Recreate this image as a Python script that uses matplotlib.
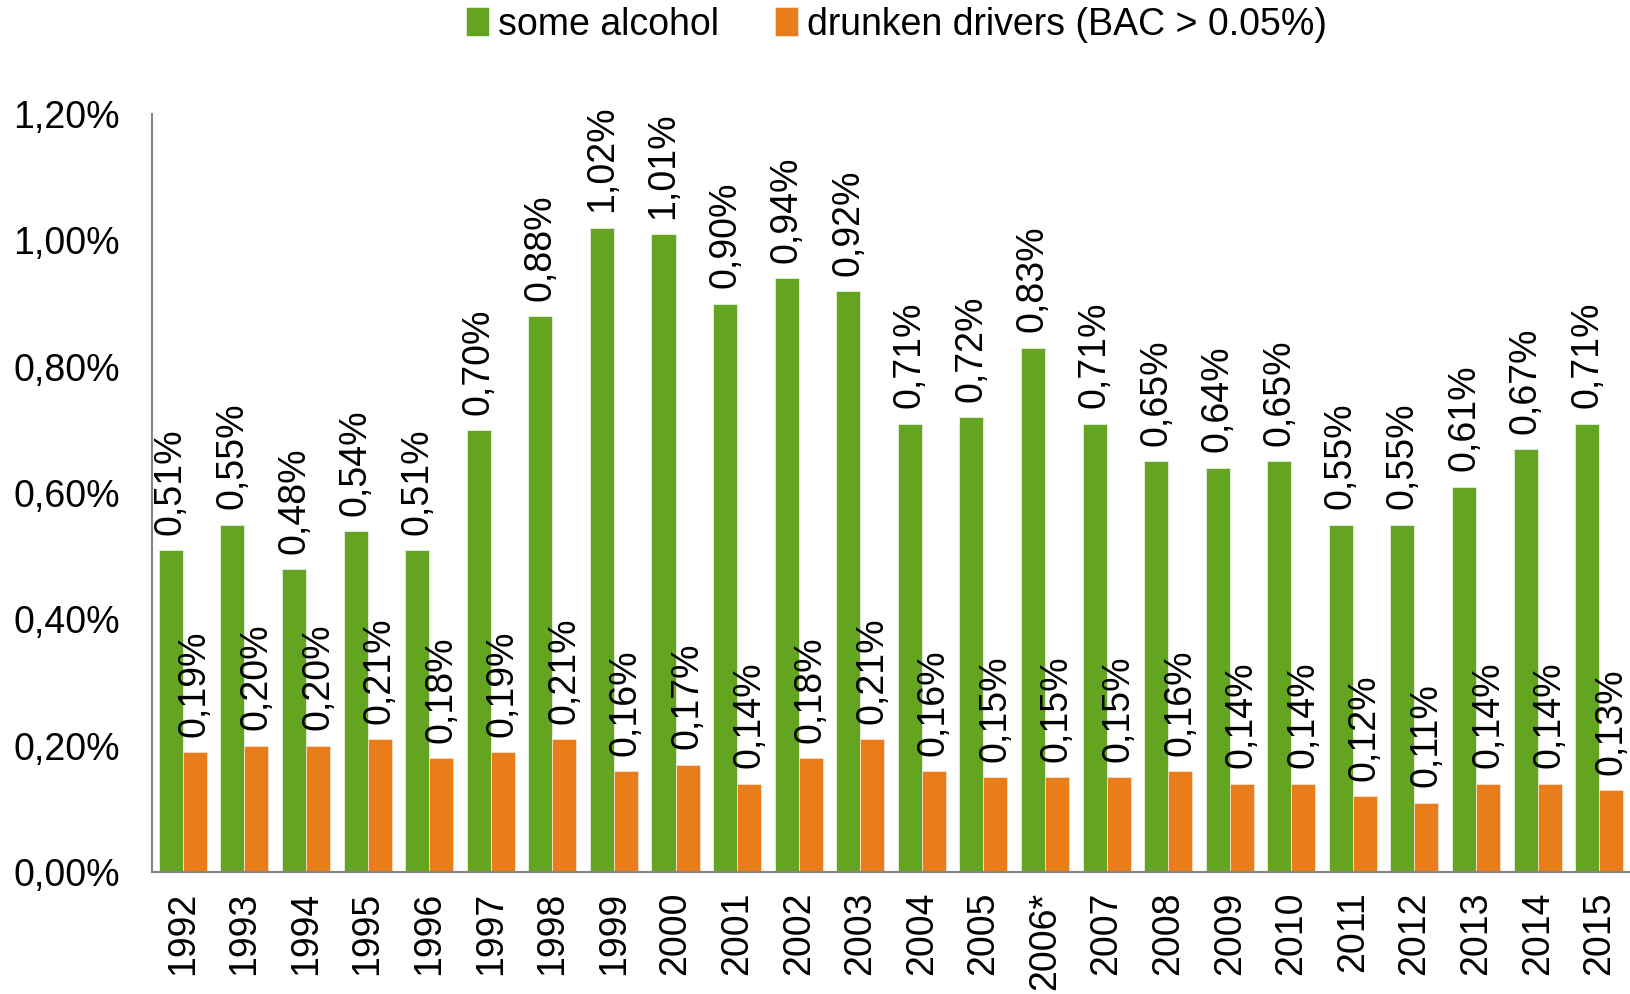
import matplotlib
matplotlib.use('Agg')
import matplotlib.pyplot as plt
import numpy as np

plt.rcParams['font.family'] = ['Liberation Sans', 'DejaVu Sans']

years = ['1992', '1993', '1994', '1995', '1996', '1997', '1998', '1999', '2000',
         '2001', '2002', '2003', '2004', '2005', '2006*', '2007', '2008', '2009',
         '2010', '2011', '2012', '2013', '2014', '2015']
some_alcohol = [0.51, 0.55, 0.48, 0.54, 0.51, 0.70, 0.88, 1.02, 1.01, 0.90, 0.94, 0.92,
                0.71, 0.72, 0.83, 0.71, 0.65, 0.64, 0.65, 0.55, 0.55, 0.61, 0.67, 0.71]
drunken = [0.19, 0.20, 0.20, 0.21, 0.18, 0.19, 0.21, 0.16, 0.17, 0.14, 0.18, 0.21,
           0.16, 0.15, 0.15, 0.15, 0.16, 0.14, 0.14, 0.12, 0.11, 0.14, 0.14, 0.13]

green = '#63A521'
orange = '#E97D1A'
fs = 27


def pct(v):
    return ('%.2f%%' % v).replace('.', ',')


fig = plt.figure(figsize=(16.3, 9.94), dpi=100)
ax = fig.add_axes([0.0933, 0.1227, 0.9067, 0.7626])

x = np.arange(len(years))
w = 0.39
b1 = ax.bar(x - w / 2, some_alcohol, w, color=green, edgecolor='#e8f0e0', linewidth=0.6,
            label='some alcohol')
b2 = ax.bar(x + w / 2, drunken, w, color=orange, edgecolor='#f5e0d0', linewidth=0.6,
            label='drunken drivers (BAC > 0.05%)')

for bars, vals in ((b1, some_alcohol), (b2, drunken)):
    for r, v in zip(bars, vals):
        ax.annotate(pct(v), (r.get_x() + r.get_width() / 2, v), xytext=(0, 11),
                    textcoords='offset points', rotation=90, ha='center', va='bottom',
                    fontsize=fs, annotation_clip=False)

ax.set_xlim(-0.5, len(years) - 0.5)
ax.set_ylim(0, 1.2)
ticks = np.arange(0, 1.21, 0.2)
ax.set_yticks(ticks)
ax.set_yticklabels([pct(t) for t in ticks], fontsize=fs)
ax.set_xticks(x)
ax.set_xticklabels(years, rotation=90, fontsize=fs)
ax.tick_params(axis='y', length=0, pad=23)
ax.tick_params(axis='x', length=0, pad=14)

for s in ('top', 'right'):
    ax.spines[s].set_visible(False)
for s in ('left', 'bottom'):
    ax.spines[s].set_color('#868686')
    ax.spines[s].set_linewidth(1.5)

fig.legend(loc='center', bbox_to_anchor=(0.55, 0.975), ncol=2, frameon=False,
           fontsize=fs, handlelength=0.6, handleheight=0.8, handletextpad=0.25,
           columnspacing=1.5)

fig.savefig('out.png', dpi=100)
